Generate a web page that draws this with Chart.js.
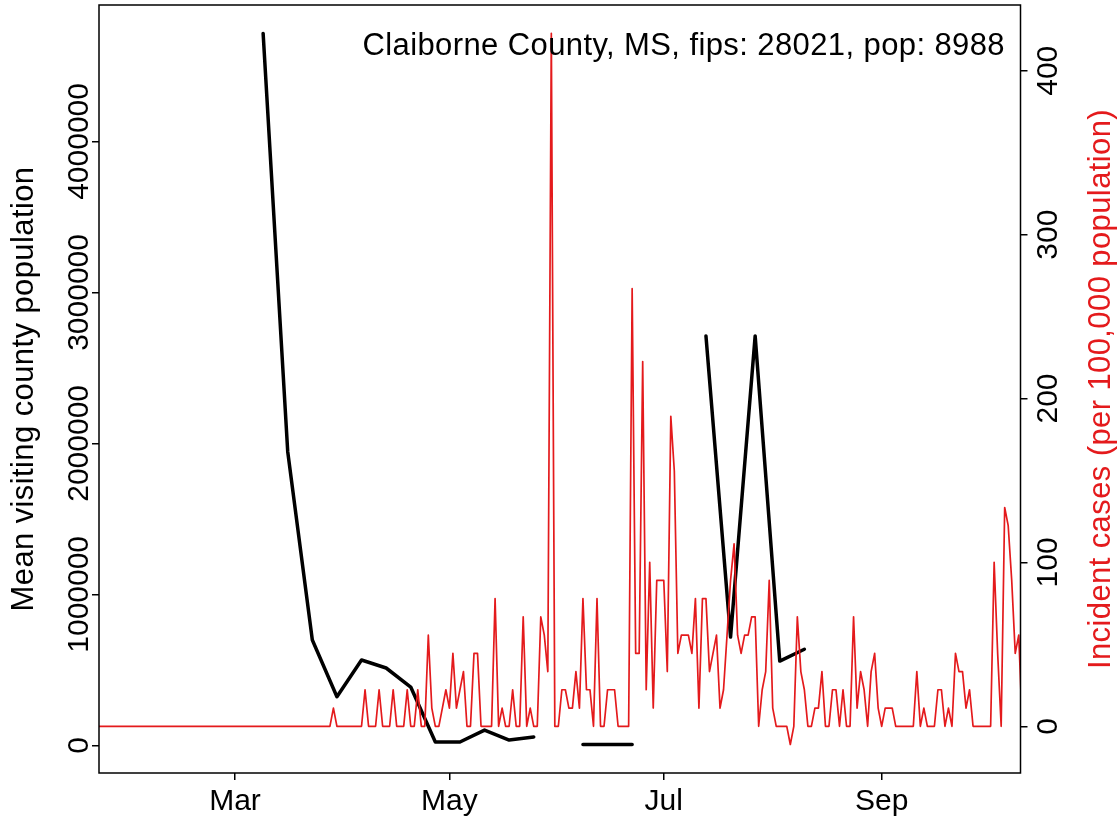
<!DOCTYPE html>
<html>
<head>
<meta charset="utf-8">
<title>Claiborne County, MS</title>
<script src="https://cdn.jsdelivr.net/npm/chart.js@4/dist/chart.umd.min.js"></script>
<style>
  html, body { margin: 0; padding: 0; background: #fff; }
  #chart-wrap { width: 1119px; height: 822px; }
</style>
</head>
<body>
<div id="chart-wrap"><canvas id="county-chart" width="1119" height="822"></canvas></div>
<script>
// --- DATA ---
const countyTitle = 'Claiborne County, MS, fips: 28021, pop: 8988';
const leftTitle = 'Mean visiting county population';
const rightTitle = 'Incident cases (per 100,000 population)';

// daily incident cases per 100,000, starting at caseStartDate
const caseStartDate = '2020-01-22';
const incidence = [
  0, 0, 0, 0, 0, 0, 0, 0, 0, 0,
  0, 0, 0, 0, 0, 0, 0, 0, 0, 0,
  0, 0, 0, 0, 0, 0, 0, 0, 0, 0,
  0, 0, 0, 0, 0, 0, 0, 0, 0, 0,
  0, 0, 0, 0, 0, 0, 0, 0, 0, 0,
  0, 0, 0, 0, 0, 0, 0, 0, 0, 0,
  0, 0, 0, 0, 0, 0, 0,
  11.1, 0, 0, 0, 0, 0, 0, 0, 0, 22.3,
  0, 0, 0, 22.3, 0, 0, 0, 22.3, 0, 0,
  0, 22.3, 0, 0, 22.3, 0, 0, 55.6, 11.1, 0,
  0, 11.1, 22.3, 11.1, 44.5, 11.1, 22.3, 33.4, 0, 0,
  44.5, 44.5, 0, 0, 0, 0, 77.9, 0, 11.1, 0,
  0, 22.3, 0, 0, 66.8, 0, 11.1, 0, 0, 66.8,
  55.6, 33.4, 422.8, 0, 0, 22.3, 22.3, 11.1, 11.1, 33.4,
  11.1, 77.9, 22.3, 22.3, 0, 77.9, 0, 0, 22.3, 22.3,
  22.3, 0, 0, 0, 0, 267.0, 44.5, 44.5, 222.5, 22.3,
  100.1, 11.1, 89.0, 89.0, 89.0, 33.4, 189.1, 155.8, 44.5, 55.6,
  55.6, 55.6, 44.5, 77.9, 11.1, 77.9, 77.9, 33.4, 44.5, 55.6,
  11.1, 22.3, 55.6, 89.0, 111.3, 55.6, 44.5, 55.6, 55.6, 66.8,
  66.8, 0, 22.3, 33.4, 89.0, 11.1, 0, 0, 0, 0,
  -11.1, 0, 66.8, 33.4, 22.3, 0, 0, 11.1, 11.1, 33.4,
  0, 0, 22.3, 22.3, 0, 22.3, 0, 0, 66.8, 11.1,
  33.4, 22.3, 0, 33.4, 44.5, 11.1, 0, 11.1, 11.1, 11.1,
  0, 0, 0, 0, 0, 0, 33.4, 0, 11.1, 0,
  0, 0, 22.3, 22.3, 0, 11.1, 0, 44.5, 33.4, 33.4,
  11.1, 22.3, 0, 0, 0, 0, 0, 0, 100.1, 44.5,
  0, 133.5, 122.4, 89.0, 44.5, 55.6, 0
];

// weekly mean visiting population (null = no data that week)
const mobilityWeeks = [
  '2020-03-09', '2020-03-16', '2020-03-23', '2020-03-30', '2020-04-06', '2020-04-13',
  '2020-04-20', '2020-04-27', '2020-05-04', '2020-05-11', '2020-05-18', '2020-05-25',
  '2020-06-01', '2020-06-08', '2020-06-15', '2020-06-22', '2020-06-29', '2020-07-06',
  '2020-07-13', '2020-07-20', '2020-07-27', '2020-08-03', '2020-08-10'
];
const mobilityMean = [
  4716000, 1945000, 698000, 322000, 565000, 512000,
  386000, 22000, 22000, 101000, 35000, 55000,
  null, 5000, 5000, 5000, null, null,
  2712000, 717000, 2712000, 558000, 636000
];

// axis ticks
const monthTicks = ['2020-03-01', '2020-05-01', '2020-07-01', '2020-09-01'];
const monthLabels = ['Mar', 'May', 'Jul', 'Sep'];
const leftTicks = [0, 1000000, 2000000, 3000000, 4000000];
const rightTicks = [0, 100, 200, 300, 400];

const RED = '#E41A1C';
const FONT_FAMILY = '"Liberation Sans", Arial, Helvetica, sans-serif';
const TICK_FONT = '30px ' + FONT_FAMILY;
const TITLE_FONT = '31px ' + FONT_FAMILY;

// days since 2020-03-01
const ORIGIN = Date.UTC(2020, 2, 1);
function dayOf(iso) {
  const p = iso.split('-').map(Number);
  return Math.round((Date.UTC(p[0], p[1] - 1, p[2]) - ORIGIN) / 86400000);
}

const caseStart = dayOf(caseStartDate);
const casePoints = incidence.map((v, i) => ({ x: caseStart + i, y: v }));
const mobilityPoints = mobilityWeeks.map((d, i) => ({ x: dayOf(d), y: mobilityMean[i] }));
const monthTickDays = monthTicks.map(dayOf);

// --- TEXT, BOX AND ROTATED LABELS ---
const axisText = {
  id: 'axisText',
  afterDraw(chart) {
    const { ctx, chartArea: a, scales } = chart;
    ctx.save();
    ctx.font = TICK_FONT;
    ctx.fillStyle = '#000';
    ctx.textBaseline = 'alphabetic';

    // box round the plot
    ctx.strokeStyle = '#000';
    ctx.lineWidth = 1.5;
    ctx.strokeRect(a.left, a.top, a.right - a.left, a.bottom - a.top);

    // x labels
    ctx.textAlign = 'center';
    monthTickDays.forEach((d, i) => {
      ctx.fillText(monthLabels[i], scales.x.getPixelForValue(d), 810);
    });

    // rotated y labels
    const upText = (txt, x, y) => {
      ctx.save();
      ctx.translate(x, y);
      ctx.rotate(-Math.PI / 2);
      ctx.fillText(txt, 0, 0);
      ctx.restore();
    };
    leftTicks.forEach(v => upText(String(v), 88, scales.yL.getPixelForValue(v)));
    rightTicks.forEach(v => upText(String(v), 1057, scales.yR.getPixelForValue(v)));

    // titles are a little wider than the tick text
    ctx.font = TITLE_FONT;
    if ('letterSpacing' in ctx) ctx.letterSpacing = '0.4px';
    const midY = (a.top + a.bottom) / 2;
    upText(leftTitle, 33, midY);
    ctx.fillStyle = RED;
    upText(rightTitle, 1110, midY);

    // county label, top right
    ctx.fillStyle = '#000';
    ctx.textAlign = 'right';
    ctx.fillText(countyTitle, 1005, 55);
    ctx.restore();
  }
};

// --- CHART ---
const tickGrid = { drawOnChartArea: false, drawTicks: true, tickLength: 7, color: '#000', lineWidth: 1.5 };

new Chart(document.getElementById('county-chart'), {
  type: 'line',
  data: {
    datasets: [
      {
        label: 'Incident cases',
        data: casePoints,
        yAxisID: 'yR',
        borderColor: RED,
        borderWidth: 1.7,
        pointRadius: 0,
        tension: 0,
        borderJoinStyle: 'round'
      },
      {
        label: 'Mean visiting county population',
        data: mobilityPoints,
        yAxisID: 'yL',
        borderColor: '#000',
        borderWidth: 3.5,
        pointRadius: 0,
        tension: 0,
        spanGaps: false,
        borderCapStyle: 'round',
        borderJoinStyle: 'round'
      }
    ]
  },
  options: {
    responsive: false,
    animation: false,
    devicePixelRatio: 1,
    layout: { padding: { top: 5, left: 0, right: 0, bottom: 0 } },
    plugins: { legend: { display: false }, tooltip: { enabled: false } },
    scales: {
      x: {
        type: 'linear',
        min: -38.7,
        max: 223.5,
        afterBuildTicks: s => { s.ticks = monthTickDays.map(v => ({ value: v })); },
        afterFit: s => { s.height = 49; },
        grid: tickGrid,
        border: { display: false },
        ticks: { display: false }
      },
      yL: {
        type: 'linear',
        position: 'left',
        min: -183500,
        max: 4904000,
        afterBuildTicks: s => { s.ticks = leftTicks.map(v => ({ value: v })); },
        afterFit: s => { s.width = 99; },
        grid: tickGrid,
        border: { display: false },
        ticks: { display: false }
      },
      yR: {
        type: 'linear',
        position: 'right',
        min: -28.5,
        max: 440.1,
        afterBuildTicks: s => { s.ticks = rightTicks.map(v => ({ value: v })); },
        afterFit: s => { s.width = 98.5; },
        grid: tickGrid,
        border: { display: false },
        ticks: { display: false }
      }
    }
  },
  plugins: [axisText]
});
</script>
</body>
</html>
